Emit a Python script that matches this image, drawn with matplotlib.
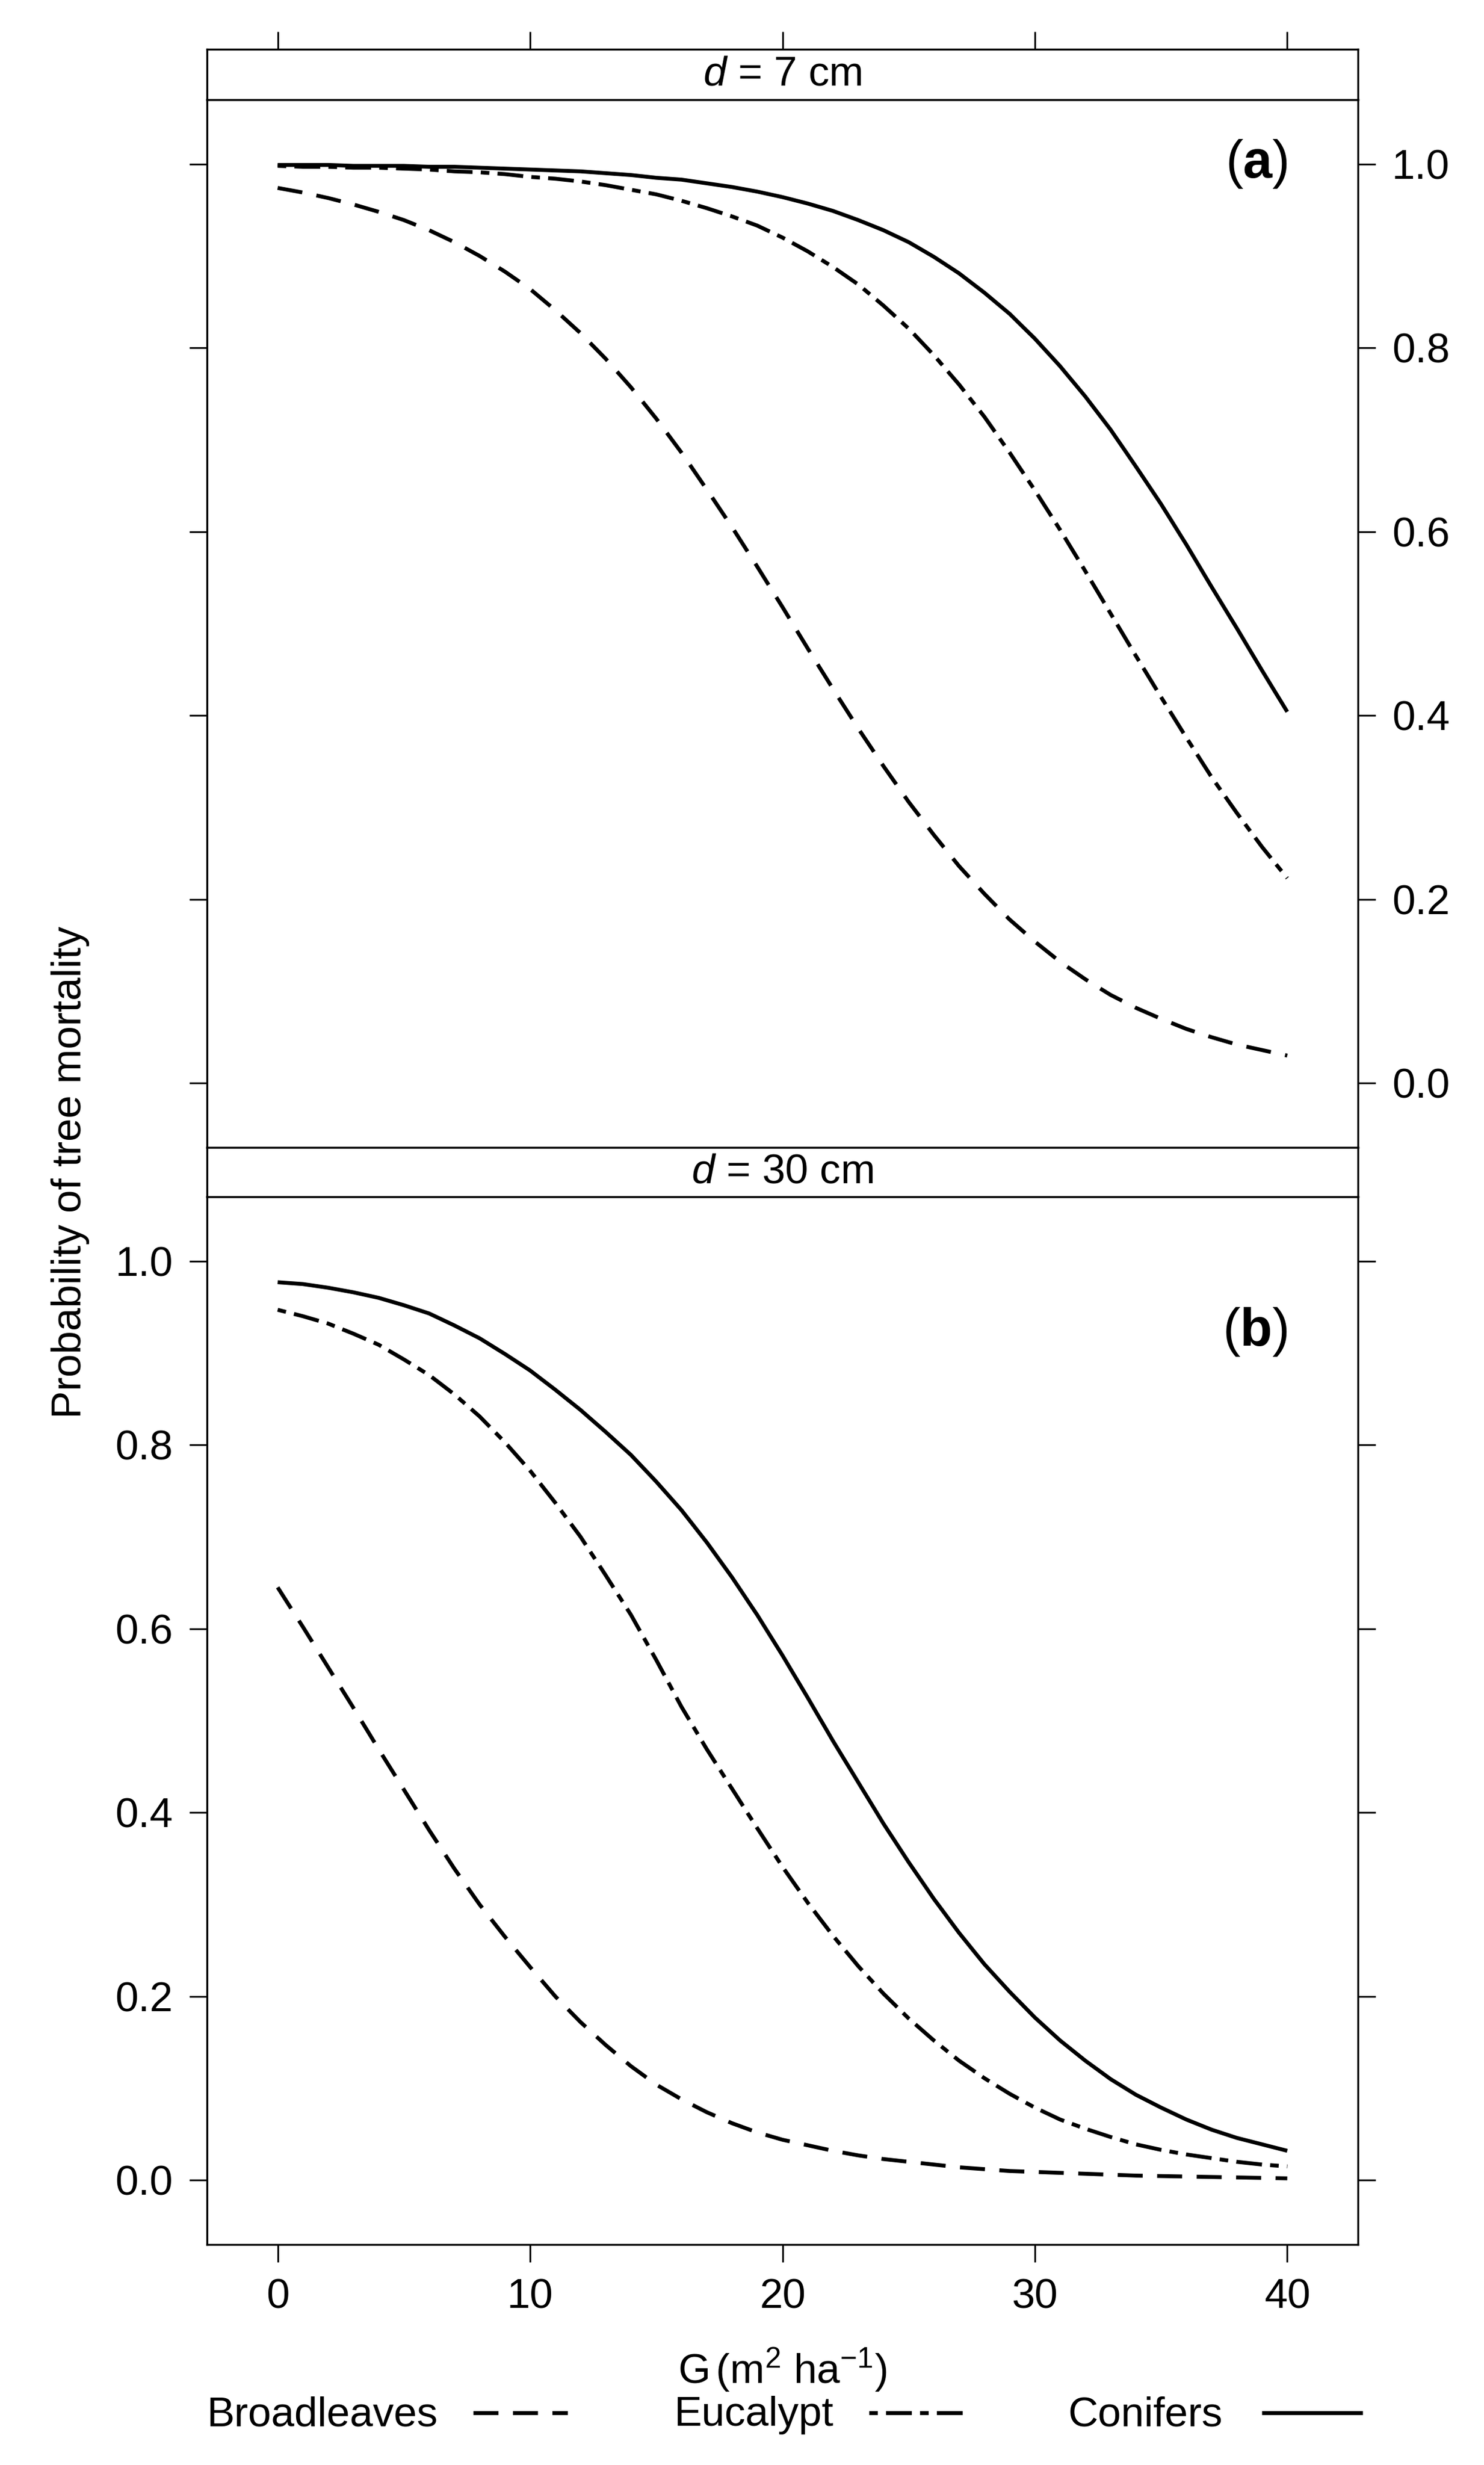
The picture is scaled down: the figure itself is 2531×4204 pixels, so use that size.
import matplotlib
matplotlib.use("Agg")
import matplotlib.pyplot as plt
from matplotlib.lines import Line2D

plt.rcParams['font.family'] = ['Liberation Sans', 'DejaVu Sans']
plt.rcParams['mathtext.fontset'] = 'custom'
plt.rcParams['mathtext.rm'] = 'Liberation Sans'
plt.rcParams['mathtext.it'] = 'Liberation Sans:italic'
plt.rcParams['mathtext.bf'] = 'Liberation Sans:bold'

# ---------------- data ----------------
G = [0, 1, 2, 3, 4, 5, 6, 7, 8, 9, 10, 11, 12, 13, 14, 15, 16, 17, 18, 19, 20,
     21, 22, 23, 24, 25, 26, 27, 28, 29, 30, 31, 32, 33, 34, 35, 36, 37, 38, 39, 40]

# panel (a): d = 7 cm
a_broadleaves = [0.974, 0.969, 0.963, 0.956, 0.948, 0.939, 0.928, 0.915, 0.900, 0.883,
                 0.864, 0.841, 0.816, 0.788, 0.757, 0.723, 0.686, 0.646, 0.605, 0.562,
                 0.518, 0.473, 0.429, 0.386, 0.345, 0.306, 0.270, 0.236, 0.206, 0.178,
                 0.154, 0.132, 0.113, 0.096, 0.082, 0.070, 0.059, 0.050, 0.042, 0.036, 0.030]
a_eucalypt = [0.998, 0.997, 0.997, 0.996, 0.996, 0.995, 0.994, 0.992, 0.991, 0.989,
              0.986, 0.984, 0.981, 0.977, 0.972, 0.967, 0.960, 0.952, 0.943, 0.933,
              0.920, 0.905, 0.888, 0.869, 0.846, 0.821, 0.792, 0.760, 0.725, 0.686,
              0.645, 0.602, 0.557, 0.511, 0.465, 0.420, 0.376, 0.333, 0.294, 0.257, 0.223]
a_conifers = [0.999, 0.999, 0.999, 0.998, 0.998, 0.998, 0.997, 0.997, 0.996, 0.995,
              0.994, 0.993, 0.992, 0.990, 0.988, 0.985, 0.983, 0.979, 0.975, 0.970,
              0.964, 0.957, 0.949, 0.939, 0.928, 0.915, 0.899, 0.881, 0.860, 0.837,
              0.810, 0.780, 0.747, 0.711, 0.671, 0.630, 0.586, 0.540, 0.495, 0.449, 0.404]

# panel (b): d = 30 cm
b_broadleaves = [0.645, 0.602, 0.558, 0.514, 0.469, 0.425, 0.381, 0.339, 0.300, 0.265,
                 0.232, 0.200, 0.172, 0.147, 0.124, 0.104, 0.088, 0.074, 0.062, 0.052,
                 0.044, 0.038, 0.032, 0.027, 0.023, 0.020, 0.017, 0.014, 0.012, 0.010,
                 0.009, 0.008, 0.007, 0.006, 0.005, 0.0045, 0.004, 0.0035, 0.003, 0.0025, 0.002]
b_eucalypt = [0.947, 0.940, 0.932, 0.921, 0.909, 0.893, 0.876, 0.855, 0.831, 0.803,
              0.772, 0.737, 0.700, 0.658, 0.615, 0.566, 0.515, 0.469, 0.426, 0.383,
              0.341, 0.302, 0.266, 0.233, 0.203, 0.176, 0.152, 0.130, 0.111, 0.094,
              0.079, 0.066, 0.056, 0.047, 0.039, 0.033, 0.028, 0.024, 0.020, 0.017, 0.015]
b_conifers = [0.977, 0.975, 0.971, 0.966, 0.960, 0.952, 0.943, 0.930, 0.916, 0.899,
              0.881, 0.860, 0.838, 0.814, 0.789, 0.760, 0.729, 0.694, 0.656, 0.615,
              0.571, 0.525, 0.478, 0.433, 0.388, 0.346, 0.306, 0.269, 0.235, 0.205,
              0.177, 0.152, 0.130, 0.110, 0.093, 0.079, 0.066, 0.055, 0.046, 0.039, 0.032]

species = ['Broadleaves', 'Eucalypt', 'Conifers']
strip_labels = ['$d$ = 7 cm', '$d$ = 30 cm']
panel_tags = ['a', 'b']
x_ticks = [0, 10, 20, 30, 40]
y_ticks = [0.0, 0.2, 0.4, 0.6, 0.8, 1.0]
y_ticklabels = ['0.0', '0.2', '0.4', '0.6', '0.8', '1.0']

# ---------------- styles ----------------
W, H, DPI = 2531, 4204, 300
LW = 1.6
styles = {
    'Broadleaves': dict(linestyle=(0, (6.4, 3.7))),
    'Eucalypt': dict(linestyle=(0, (2.2, 2.1, 6.6, 2.1))),
    'Conifers': dict(linestyle='-'),
}
FS = 17
TICK = dict(direction='out', length=7.2, width=0.7, pad=6.7, labelsize=FS, color='black')
XLIM = (-2.8, 42.8)
YLIM = (-0.07, 1.07)

fig = plt.figure(figsize=(W / DPI, H / DPI), dpi=DPI)
fig.patch.set_facecolor('white')


def rect(x0, y0, x1, y1):
    return [x0 / W, 1 - y1 / H, (x1 - x0) / W, (y1 - y0) / H]


def fx(x):
    return x / W


def fy(y):
    return 1 - y / H


L, R = 353, 2316
layout = [
    dict(strip=(L, 84, R, 170), panel=(L, 170, R, 1957)),
    dict(strip=(L, 1957, R, 2041), panel=(L, 2041, R, 3828)),
]
data = [
    [a_broadleaves, a_eucalypt, a_conifers],
    [b_broadleaves, b_eucalypt, b_conifers],
]
tag_y = [1.0, 0.923]

for i, lay in enumerate(layout):
    ax = fig.add_axes(rect(*lay['panel']))
    for name, vals in zip(species, data[i]):
        ax.plot(G, vals, color='black', lw=LW, solid_capstyle='butt',
                dash_capstyle='butt', solid_joinstyle='round', **styles[name])
    ax.set_xlim(*XLIM)
    ax.set_ylim(*YLIM)
    ax.set_yticks(y_ticks)
    ax.set_yticklabels(y_ticklabels)
    ax.set_xticks(x_ticks)
    ax.set_xticklabels([str(v) for v in x_ticks])
    for s in ax.spines.values():
        s.set_linewidth(0.8)
    ax.tick_params(axis='both', **TICK)
    if i == 0:
        ax.tick_params(axis='y', left=True, right=True, labelleft=False, labelright=True)
        ax.tick_params(axis='x', bottom=False, top=False, labelbottom=False)
    else:
        ax.tick_params(axis='y', left=True, right=True, labelleft=True, labelright=False)
        ax.tick_params(axis='x', bottom=True, top=False, labelbottom=True)
    ax.text(40, tag_y[i], '(' + r'$\mathbf{' + panel_tags[i] + '}$' + ')',
            ha='right', va='center', fontsize=21.5)

    sx = fig.add_axes(rect(*lay['strip']))
    sx.set_facecolor('white')
    sx.set_xlim(*XLIM)
    sx.set_ylim(0, 1)
    sx.set_yticks([])
    for s in sx.spines.values():
        s.set_linewidth(0.8)
    if i == 0:
        sx.set_xticks(x_ticks)
        sx.tick_params(axis='x', bottom=False, top=True, labelbottom=False,
                       labeltop=False, direction='out', length=7.2, width=0.7)
    else:
        sx.set_xticks([])
    sx.text(0.5, 0.5, strip_labels[i], transform=sx.transAxes,
            ha='center', va='center', fontsize=FS)

# axis labels
fig.text(fx(120), fy(1999), 'Probability of tree mortality', rotation=90,
         ha='center', va='center', fontsize=FS)
fig.text(fx((L + R) / 2), fy(4065), r'G$\,$(m$^{2}$ ha$^{-1}$)',
         ha='center', va='baseline', fontsize=FS)

# legend (key) below the axis label
key_text_x = [352, 1149, 1821]
key_line_x = [(807, 968), (1482, 1655), (2152, 2324)]
for name, tx, (l0, l1) in zip(species, key_text_x, key_line_x):
    fig.text(fx(tx), fy(4137), name, ha='left', va='baseline', fontsize=FS)
    fig.add_artist(Line2D([fx(l0), fx(l1)], [fy(4115), fy(4115)], color='black',
                          lw=LW, transform=fig.transFigure, solid_capstyle='butt',
                          dash_capstyle='butt', **styles[name]))

fig.savefig('out.png', dpi=DPI, facecolor='white')
